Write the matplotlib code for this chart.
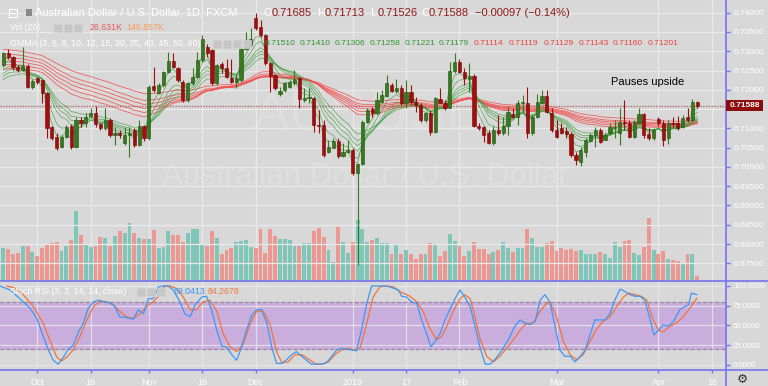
import numpy as np
import pandas as pd
import matplotlib
matplotlib.use("Agg")
import matplotlib.pyplot as plt
from matplotlib.patches import Rectangle
from matplotlib.lines import Line2D

# daily AUD/USD candles, Sep 20 2018 .. Apr 11 2019 (trading days)
opens = [0.7264, 0.7295, 0.7286, 0.7260, 0.7252, 0.7262, 0.7208, 0.7230, 0.7225, 0.7191,
         0.7103, 0.7078, 0.7052, 0.7078, 0.7106, 0.7051, 0.7123, 0.7113, 0.7132, 0.7141,
         0.7111, 0.7100, 0.7123, 0.7083, 0.7087, 0.7061, 0.7083, 0.7096, 0.7057, 0.7106,
         0.7074, 0.7210, 0.7192, 0.7212, 0.7247, 0.7275, 0.7256, 0.7221, 0.7173, 0.7217,
         0.7234, 0.7277, 0.7312, 0.7303, 0.7217, 0.7266, 0.7256, 0.7230, 0.7221, 0.7225,
         0.7307, 0.7316, 0.7385, 0.7364, 0.7342, 0.7269, 0.7238, 0.7190, 0.7199, 0.7208,
         0.7217, 0.7230, 0.7173, 0.7178, 0.7179, 0.7109, 0.7109, 0.7039, 0.7050, 0.7068,
         0.7028, 0.7039, 0.7044, 0.6983, 0.7007, 0.7117, 0.7149, 0.7141, 0.7169, 0.7184,
         0.7212, 0.7198, 0.7204, 0.7165, 0.7195, 0.7169, 0.7160, 0.7122, 0.7141, 0.7091,
         0.7175, 0.7166, 0.7154, 0.7250, 0.7273, 0.7247, 0.7227, 0.7236, 0.7106, 0.7103,
         0.7087, 0.7061, 0.7097, 0.7087, 0.7106, 0.7136, 0.7130, 0.7165, 0.7165, 0.7087,
         0.7130, 0.7166, 0.7184, 0.7139, 0.7096, 0.7100, 0.7092, 0.7085, 0.7032, 0.7013,
         0.7040, 0.7068, 0.7083, 0.7096, 0.7071, 0.7087, 0.7100, 0.7087, 0.7117, 0.7113,
         0.7078, 0.7113, 0.7136, 0.7085, 0.7074, 0.7124, 0.7113, 0.7074, 0.7115, 0.7113,
         0.7103, 0.7130, 0.7122, 0.71685]
highs = [0.7299, 0.7307, 0.7288, 0.7265, 0.7312, 0.7266, 0.7228, 0.7234, 0.7228, 0.7195,
         0.7106, 0.7087, 0.7083, 0.7109, 0.7111, 0.7130, 0.7130, 0.7139, 0.7152, 0.7158,
         0.7115, 0.7152, 0.7126, 0.7104, 0.7096, 0.7104, 0.7104, 0.7100, 0.7122, 0.7110,
         0.7212, 0.7260, 0.7218, 0.7250, 0.7299, 0.7295, 0.7260, 0.7225, 0.7221, 0.7256,
         0.7299, 0.7342, 0.7320, 0.7307, 0.7268, 0.7273, 0.7279, 0.7279, 0.7238, 0.7312,
         0.7351, 0.7360, 0.7399, 0.7381, 0.7346, 0.7273, 0.7240, 0.7208, 0.7221, 0.7225,
         0.7251, 0.7234, 0.7204, 0.7204, 0.7182, 0.7147, 0.7122, 0.7070, 0.7074, 0.7074,
         0.7061, 0.7070, 0.7048, 0.7009, 0.7122, 0.7152, 0.7156, 0.7195, 0.7199, 0.7238,
         0.7217, 0.7227, 0.7212, 0.7225, 0.7212, 0.7182, 0.7165, 0.7143, 0.7147, 0.7182,
         0.7204, 0.7173, 0.7273, 0.7296, 0.7279, 0.7256, 0.7269, 0.7240, 0.7113, 0.7106,
         0.7096, 0.7106, 0.7135, 0.7130, 0.7156, 0.7152, 0.7173, 0.7186, 0.7208, 0.7136,
         0.7189, 0.7199, 0.7199, 0.7152, 0.7122, 0.7113, 0.7104, 0.7091, 0.7039, 0.7052,
         0.7074, 0.7087, 0.7103, 0.7100, 0.7087, 0.7113, 0.7122, 0.7152, 0.7173, 0.7122,
         0.7122, 0.7152, 0.7139, 0.7100, 0.7100, 0.7130, 0.7122, 0.7122, 0.7130, 0.7132,
         0.7135, 0.7154, 0.7176, 0.71713]
lows = [0.7260, 0.7280, 0.7251, 0.7247, 0.7248, 0.7204, 0.7202, 0.7215, 0.7165, 0.7074,
        0.7070, 0.7044, 0.7048, 0.7074, 0.7046, 0.7048, 0.7104, 0.7104, 0.7130, 0.7104,
        0.7096, 0.7096, 0.7078, 0.7057, 0.7074, 0.7057, 0.7026, 0.7052, 0.7054, 0.7068,
        0.7070, 0.7195, 0.7188, 0.7208, 0.7243, 0.7256, 0.7221, 0.7169, 0.7169, 0.7212,
        0.7230, 0.7273, 0.7286, 0.7212, 0.7212, 0.7243, 0.7230, 0.7217, 0.7204, 0.7221,
        0.7303, 0.7310, 0.7355, 0.7338, 0.7264, 0.7195, 0.7199, 0.7184, 0.7195, 0.7204,
        0.7212, 0.7154, 0.7169, 0.7165, 0.7091, 0.7087, 0.7026, 0.7037, 0.7048, 0.7022,
        0.7026, 0.7035, 0.6980, 0.6745, 0.7005, 0.7113, 0.7130, 0.7135, 0.7165, 0.7182,
        0.7195, 0.7191, 0.7160, 0.7152, 0.7160, 0.7143, 0.7117, 0.7117, 0.7083, 0.7087,
        0.7165, 0.7147, 0.7152, 0.7243, 0.7243, 0.7212, 0.7195, 0.7104, 0.7096, 0.7065,
        0.7059, 0.7057, 0.7083, 0.7083, 0.7083, 0.7126, 0.7109, 0.7143, 0.7074, 0.7083,
        0.7126, 0.7165, 0.7139, 0.7091, 0.7074, 0.7085, 0.7074, 0.7026, 0.7005, 0.7002,
        0.7026, 0.7065, 0.7052, 0.7063, 0.7070, 0.7083, 0.7074, 0.7057, 0.7096, 0.7074,
        0.7074, 0.7111, 0.7074, 0.7070, 0.7071, 0.7106, 0.7054, 0.7059, 0.7104, 0.7096,
        0.7100, 0.7117, 0.7117, 0.71526]
closes = [0.7295, 0.7286, 0.7260, 0.7252, 0.7262, 0.7208, 0.7222, 0.7221, 0.7191, 0.7100,
          0.7074, 0.7048, 0.7078, 0.7104, 0.7051, 0.7123, 0.7113, 0.7130, 0.7141, 0.7111,
          0.7100, 0.7122, 0.7083, 0.7087, 0.7083, 0.7083, 0.7087, 0.7057, 0.7106, 0.7074,
          0.7208, 0.7199, 0.7212, 0.7247, 0.7275, 0.7260, 0.7225, 0.7173, 0.7218, 0.7234,
          0.7277, 0.7333, 0.7295, 0.7217, 0.7264, 0.7256, 0.7234, 0.7221, 0.7230, 0.7307,
          0.7316, 0.7333, 0.7360, 0.7342, 0.7269, 0.7236, 0.7204, 0.7198, 0.7217, 0.7221,
          0.7227, 0.7176, 0.7180, 0.7182, 0.7109, 0.7106, 0.7031, 0.7051, 0.7068, 0.7028,
          0.7039, 0.7044, 0.6983, 0.7007, 0.7117, 0.7147, 0.7141, 0.7173, 0.7186, 0.7217,
          0.7198, 0.7204, 0.7165, 0.7195, 0.7169, 0.7160, 0.7122, 0.7139, 0.7091, 0.7178,
          0.7166, 0.7152, 0.7250, 0.7273, 0.7247, 0.7230, 0.7236, 0.7106, 0.7100, 0.7083,
          0.7063, 0.7097, 0.7089, 0.7106, 0.7143, 0.7130, 0.7165, 0.7169, 0.7087, 0.7130,
          0.7169, 0.7184, 0.7143, 0.7096, 0.7078, 0.7089, 0.7085, 0.7031, 0.7018, 0.7044,
          0.7071, 0.7083, 0.7096, 0.7065, 0.7083, 0.7104, 0.7104, 0.7117, 0.7113, 0.7078,
          0.7117, 0.7136, 0.7083, 0.7074, 0.7096, 0.7113, 0.7071, 0.7113, 0.7111, 0.7100,
          0.7128, 0.7122, 0.7169, 0.71588]
volumes_k = [173, 168, 141, 145, 182, 182, 154, 129, 173, 191, 198, 203, 155, 186, 217, 367,
             244, 194, 177, 184, 233, 226, 186, 238, 265, 253, 307, 251, 226, 221,
             221, 269, 173, 177, 261, 244, 244, 207, 254, 276, 276, 189, 184, 261, 226, 141,
             163, 171, 205, 212, 216, 177, 171, 274, 145, 274, 235, 221, 221,
             217, 182, 186, 200, 200, 261, 279, 230, 163, 97, 283, 203, 145, 203, 323, 274,
             203, 217, 226, 198, 198, 141, 191, 141, 163, 141, 115, 141,
             141, 198, 191, 133, 159, 246, 212, 186, 133, 159, 207, 168, 168, 141, 154, 163,
             203, 171, 154, 171, 171, 274, 226, 180, 180, 198, 212, 155, 171,
             163, 168, 159, 164, 141, 141, 141, 154, 141, 120, 203, 180, 212, 217, 145, 138,
             180, 332, 163, 141, 155, 115, 110, 106, 92, 141, 141, 27]

# GMMA: EMA spans and their level just before the first visible bar
gmma_short = [3, 5, 8, 10, 12, 15]
gmma_short_start = [0.7262, 0.7252, 0.7240, 0.7232, 0.7225, 0.7217]
gmma_long = [30, 35, 40, 45, 50, 60]
gmma_long_start = [0.7250, 0.7262, 0.7273, 0.7283, 0.7293, 0.7305]

# Stoch RSI lines (bar position, value)
stoch_k_x = [-0.7, 1.4, 3.4, 5.5, 6.9, 7.9, 9.3, 10.3, 11.3, 12.4, 13.4, 14.4, 15.5, 16.5, 17.5,
             18.6, 19.6, 20.6, 22, 23, 24, 25.4, 26.8, 27.8, 28.9, 29.9, 30.9, 32, 33, 34, 35,
             36.4, 37.4, 38.5, 39.5, 40.9, 41.9, 42.9, 44, 45, 46, 47.1, 48.1, 49.1, 50.1, 51.2,
             52.2, 53.2, 54.3, 55.3, 56.3, 57.4, 58.4, 59.4, 60.4, 61.5, 62.5, 63.5, 64.6, 65.6,
             66.6, 67.7, 68.7, 69.7, 70.7, 71.8, 72.8, 73.8, 74.9, 75.9, 76.9, 78, 79, 80, 81.4,
             82.1, 83.1, 84.1, 85.2, 86.2, 87.2, 88.1, 89, 90, 91, 92, 93.1, 94.1, 95.1, 96.2,
             97.2, 98.2, 99.3, 100.3, 101.3, 102.3, 103.4, 104.4, 105.4, 106.5, 107.5, 108.5,
             109.6, 110.6, 111.6, 112.6, 113.7, 114.7, 115.7, 116.8, 117.8, 118.8, 119.9, 120.9,
             121.9, 122.9, 124, 125, 126, 127.1, 128.1, 129.1, 130.2, 131.2, 132.2, 133.3, 134.1,
             135, 136, 137, 138.1, 139.4, 140.5, 141.2, 141.8, 142.9]
stoch_k = [100, 95, 84, 72, 59, 42, 19, 6, 1, 10, 20, 25, 42, 53, 72,
           80, 82, 80, 79, 74, 61, 60, 58, 70, 65, 84, 84, 99, 100, 100, 95,
           80, 65, 61, 76, 86, 87, 70, 44, 24, 23, 13, 6, 23, 44, 63,
           70, 70, 53, 23, 2, 2, 7, 13, 17, 11, 6, 1, 1, 1,
           3, 11, 19, 21, 20, 19, 18, 44, 78, 100, 100, 100, 100, 98, 95,
           87, 86, 80, 78, 57, 40, 23, 30, 40, 57, 70, 84, 95, 86, 74,
           49, 23, 1, 1, 7, 15, 25, 36, 49, 57, 53, 51,
           55, 82, 89, 80, 49, 19, 11, 11, 4, 10, 19, 38,
           57, 57, 57, 65, 82, 96, 93, 89, 87, 87, 82, 57, 38,
           44, 51, 49, 55, 70, 74, 76, 91, 89.04]
stoch_d_x = [0.7, 2.1, 4.1, 6.2, 8.2, 10, 11, 12, 13.1, 14.4, 15.8, 17.2, 18.6, 19.9, 21.3, 22.7,
             24, 25.4, 26.8, 28.2, 29.5, 30.9, 32.3, 33.3, 34.3, 35.7, 37.1, 38.5, 39.8, 41.2,
             42.6, 44, 45.3, 46.7, 48.1, 49.5, 50.8, 52.2, 53.6, 55, 56.3, 57.4, 58.7, 60.1, 61.5,
             62.8, 64.2, 65.6, 67, 68.3, 69.7, 71.1, 72.5, 73.5, 74.9, 76.2, 77.6, 79, 80.4, 81.7,
             83.8, 85.2, 86.5, 87.9, 89.3, 90.3, 91.4, 92.7, 94.1, 95.1, 96.2, 97.2, 98.2, 99.6,
             101, 102.3, 103.7, 105.1, 106.5, 107.8, 109.2, 110.6, 112, 112.6, 114, 115.4, 116.8,
             118.1, 119.5, 120.9, 122.3, 123.6, 125, 126.4, 127.8, 128.8, 130.2, 131.5, 132.6,
             133.9, 135, 136, 137.4, 138.7, 140.1, 141.5, 142.9]
stoch_d = [100, 98, 89, 74, 53, 25, 10, 5, 10, 19, 36, 57, 74, 81, 80, 76,
           68, 61, 59, 65, 74, 80, 89, 100, 100, 97, 86, 70, 70, 80,
           82, 68, 40, 23, 17, 27, 51, 68, 68, 51, 17, 3, 4, 13, 13,
           8, 2, 1, 4, 13, 19, 21, 19, 21, 53, 86, 99, 100, 99, 93,
           87, 80, 68, 46, 32, 36, 49, 68, 84, 89, 84, 61, 34, 11,
           4, 11, 21, 32, 44, 53, 53, 68, 78, 80, 61, 30, 13,
           7, 13, 30, 46, 55, 61, 74, 86, 91, 89, 87, 82,
           57, 44, 42, 49, 53, 61, 72, 84.27]

date_pos = [7, 18, 30, 41, 52, 72, 83, 94, 114, 135, 146]
date_labels = ["Oct", "16", "Nov", "16", "Dec", "2019", "17", "Feb", "Mar", "Apr", "16"]

price_ticks = np.arange(0.675, 0.74001, 0.005)
stoch_ticks = [0, 25, 50, 75, 100]
gmma_labels = ["0.71510", "0.71410", "0.71306", "0.71258", "0.71221", "0.71179",
               "0.71114", "0.71119", "0.71129", "0.71143", "0.71160", "0.71201"]

plt.rcParams['font.family'] = ['Liberation Sans', 'DejaVu Sans']

W, H = 768, 386
BG = "#d8d8d8"
GRID = "#e9e9e9"
BLUE = "#7474ee"
GREEN_C = "#377a1e"
RED_C = "#a20d0d"


def fx(x):
    return x / W


def fy(y):
    return 1 - y / H


fig = plt.figure(figsize=(W / 100, H / 100), dpi=100, facecolor=BG)

price_rect = [0, fy(280.7), fx(725.7), 280.7 / H]
ax_v = fig.add_axes(price_rect, facecolor=BG)
ax_p = fig.add_axes(price_rect, facecolor="none", sharex=ax_v)
ax_s = fig.add_axes([0, fy(370), fx(725.7), (370 - 280.7) / H], facecolor=BG, sharex=ax_v)

x = np.arange(len(closes))
o = np.array(opens)
c = np.array(closes)
hi = np.array(highs)
lo = np.array(lows)
up = c >= o

# volume (bottom layer)
vol_colors = np.where(up, "#80c6b8", "#eb9792")
ax_v.bar(x, volumes_k, width=0.8, color=vol_colors, zorder=2)
ax_v.set_ylim(0, 1488)
ax_v.set_xlim(-0.68, 148.86)
for p in date_pos:
    ax_v.axvline(p, color=GRID, lw=0.9, zorder=1)
ax_v.text(0.51, 0.585, "AUDUSD", transform=ax_v.transAxes, ha="center", va="center",
          fontsize=40, color="white", alpha=0.13, zorder=1)
ax_v.text(0.503, 0.37, "Australian Dollar / U.S. Dollar", transform=ax_v.transAxes,
          ha="center", va="center", fontsize=22.5, color="white", alpha=0.16, zorder=1)

# price pane
ax_p.set_ylim(0.670497, 0.743294)
for t in price_ticks:
    ax_p.axhline(t, color=GRID, lw=0.9, zorder=0.5)

closes_s = pd.Series(closes)
for span, start in zip(gmma_long, gmma_long_start):
    ema = pd.concat([pd.Series([start]), closes_s], ignore_index=True).ewm(span=span, adjust=False).mean().iloc[1:]
    ax_p.plot(x, ema.values, color="#f24b4b", lw=0.6, alpha=0.85, zorder=2)
for span, start in zip(gmma_short, gmma_short_start):
    ema = pd.concat([pd.Series([start]), closes_s], ignore_index=True).ewm(span=span, adjust=False).mean().iloc[1:]
    ax_p.plot(x, ema.values, color="#3f9b3f", lw=0.55, alpha=0.75, zorder=2)

ax_p.axhline(closes[-1], color="#b36a6a", lw=1.0, ls=(0, (1, 1)), zorder=1.5)

cols = np.where(up, GREEN_C, RED_C)
ax_p.vlines(x, lo, hi, colors=cols, lw=0.8, zorder=3)
body_h = np.maximum(np.abs(c - o), 0.00005)
ax_p.bar(x, body_h, bottom=np.minimum(o, c), width=0.66, color=cols,
         edgecolor=np.where(up, "#214f12", "#6e0808"), linewidth=0.4, zorder=4)

ax_p.yaxis.tick_right()
ax_p.set_yticks(price_ticks)
# the last-price tag covers the 0.71500 label
ax_p.set_yticklabels(["" if abs(t - 0.715) < 1e-6 else f"{t:.5f}" for t in price_ticks])
ax_p.tick_params(axis="y", length=3, width=1, color=BLUE, labelcolor="white",
                 labelsize=6.0, pad=2.5)
ax_p.tick_params(axis="x", bottom=False, labelbottom=False)
ax_v.tick_params(left=False, labelleft=False, bottom=False, labelbottom=False)
for ax in (ax_v, ax_p, ax_s):
    for s in ax.spines.values():
        s.set_visible(False)

# stoch RSI pane
ax_s.set_ylim(-6.33, 106.7)
ax_s.axhspan(20, 80, color="#c9addd", zorder=1)
for t in stoch_ticks:
    ax_s.axhline(t, color="#ebebeb", lw=0.9, alpha=0.8, zorder=1.2)
for p in date_pos:
    ax_s.axvline(p, color=GRID, lw=0.9, alpha=0.8, zorder=1.2)
ax_s.axhline(80, color="#8c8c8c", lw=0.8, ls=(0, (3, 2.5)), zorder=1.5)
ax_s.axhline(20, color="#8c8c8c", lw=0.8, ls=(0, (3, 2.5)), zorder=1.5)
ax_s.plot(stoch_k_x, stoch_k, color="#3d98f2", lw=0.9, zorder=3)
ax_s.plot(stoch_d_x, stoch_d, color="#f2733a", lw=0.9, zorder=2.5)
ax_s.yaxis.tick_right()
ax_s.set_yticks(stoch_ticks)
ax_s.set_yticklabels([f"{t:.4f}" for t in stoch_ticks])
ax_s.tick_params(axis="y", length=3, width=1, color=BLUE, labelcolor="white",
                 labelsize=5.6, pad=2.2)
ax_s.set_xticks(date_pos)
ax_s.set_xticklabels(date_labels)
ax_s.tick_params(axis="x", length=2, width=1, color=BLUE, labelcolor="white",
                 labelsize=6.4, pad=4)

# pane borders
fig.add_artist(Line2D([fx(725.7), fx(725.7)], [0, 1], color=BLUE, lw=1.2))
fig.add_artist(Line2D([0, 1], [fy(280.7), fy(280.7)], color=BLUE, lw=1.2))
fig.add_artist(Line2D([0, 1], [fy(370), fy(370)], color=BLUE, lw=1.2))

# last price tag
fig.add_artist(Rectangle((fx(726), fy(111)), fx(36.5), 11 / H, facecolor="#8e0b0b",
                         edgecolor="none", zorder=5))
fig.text(fx(744.5), fy(105.5), "0.71588", color="white", fontsize=6.0, ha="center",
         va="center", weight="bold", zorder=6)


def label(px, py, s, color="white", size=6.3, **kw):
    fig.text(fx(px), fy(py), s, color=color, fontsize=size, ha="left", va="center", **kw)


def icons(px, py, n):
    for k in range(n):
        fig.add_artist(Rectangle((fx(px + k * 10), fy(py + 4)), fx(8), 8 / H,
                                 facecolor="#c6c6c6", edgecolor="#d0d0d0", lw=0.5))


# header rows
fig.add_artist(Rectangle((fx(9), fy(17)), fx(8), 8 / H, facecolor="none",
                         edgecolor="white", lw=0.8))
fig.add_artist(Line2D([fx(11), fx(15)], [fy(13), fy(13)], color="white", lw=0.8))
fig.add_artist(Rectangle((fx(26), fy(16)), fx(6), 7 / H, facecolor="#8a8a8a", edgecolor="none"))
label(35, 12.5, "Australian Dollar / U.S. Dollar, 1D, FXCM", size=8)
for px, letter, val in [(264, "O", "0.71685"), (317, "H", "0.71713"),
                        (370, "L", "0.71526"), (421, "C", "0.71588")]:
    label(px, 12.5, letter, size=8)
    label(px + 7.5, 12.5, val, color="#8e1a1a", size=8)
label(475, 12.5, "\u22120.00097 (\u22120.14%)", color="#8e1a1a", size=8)

label(10, 28, "Vol (20)", size=6.3)
icons(54, 28, 3)
label(90, 28, "26.631K", color="#e8595b", size=6.3)
label(126, 28, "146.857K", color="#fb9a55", size=6.3)

label(10, 43.5, "GMMA (3, 5, 8, 10, 12, 15, 30, 35, 40, 45, 50, 60)", size=6.3)
icons(213, 43.5, 4)
for k, s in enumerate(gmma_labels):
    label(265 + k * 34.8, 43.5, s, color="#2f962f" if k < 6 else "#ee4141", size=6.1)

label(10, 292, "Stoch RSI (3, 3, 14, 14, close)", size=6.3)
icons(137, 292, 3)
label(174, 292, "89.0413", color="#3a97f2", size=6.3)
label(208, 292, "84.2678", color="#f2773a", size=6.3)

label(611, 82, "Pauses upside", color="black", size=8)
fig.text(fx(742), fy(379), "\u2699", color="#333333", fontsize=9, ha="center",
         va="center", family="DejaVu Sans")

fig.savefig("out.png", dpi=100, facecolor=BG)
